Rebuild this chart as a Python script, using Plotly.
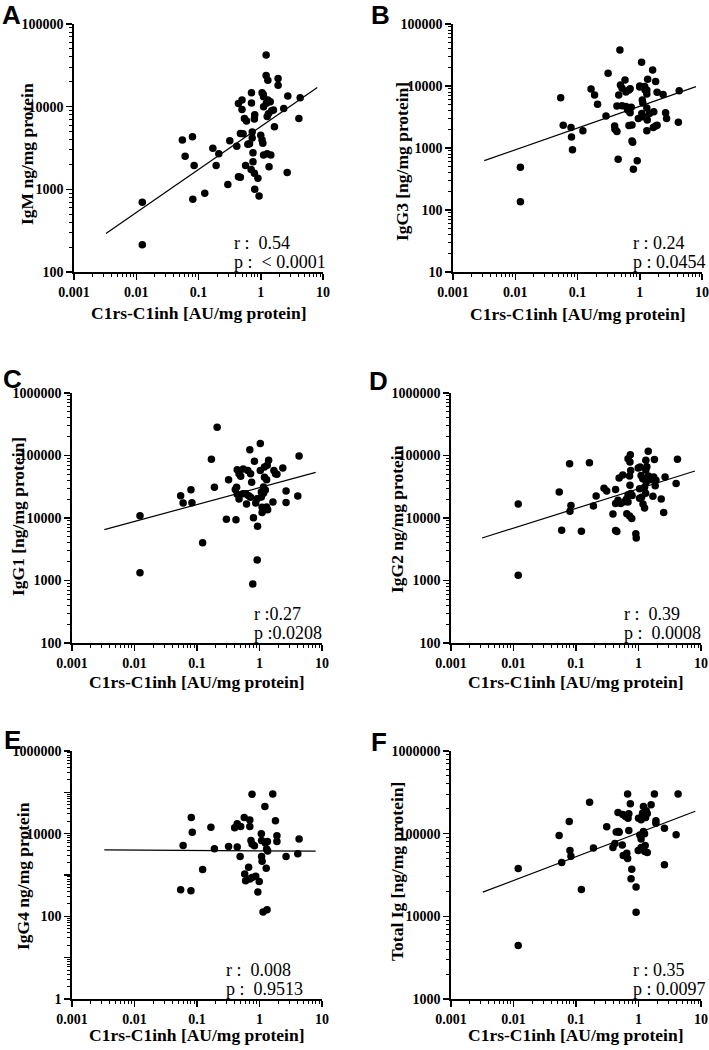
import plotly.graph_objects as go

# ---------------- data ----------------
X_TICKS = [0.001, 0.01, 0.1, 1, 10]
X_TICKTEXT = ["0.001", "0.01", "0.1", "1", "10"]
X_TITLE = "C1rs-C1inh [AU/mg protein]"

A_x = [0.0125, 0.0125, 0.055, 0.061, 0.080, 0.085, 0.081, 0.126, 0.170, 0.192, 0.212, 0.296, 0.318, 0.412, 0.438, 0.438, 0.472, 0.47, 0.50, 0.50, 0.52, 0.547, 0.59, 0.57, 0.62, 0.66, 0.70, 0.71, 0.71, 0.73, 0.73, 0.75, 0.75, 0.79, 0.80, 0.79, 0.80, 0.90, 0.94, 1.0, 1.05, 1.11, 1.11, 1.05, 1.08, 1.11, 1.22, 1.22, 1.30, 1.23, 1.30, 1.27, 1.33, 1.27, 1.36, 1.45, 1.60, 1.66, 1.90, 1.90, 2.34, 2.66, 2.72, 4.1, 4.3, 1.50, 1.42, 1.1]
A_y = [700, 214, 3940, 2520, 4320, 1940, 760, 898, 3150, 1940, 2690, 1143, 3860, 3310, 10900, 1416, 4740, 1400, 12000, 9260, 4700, 7200, 6700, 1940, 3520, 3550, 1735, 14700, 11100, 4940, 4180, 2160, 2780, 7100, 7970, 1570, 1000, 1364, 830, 4500, 14700, 13200, 10000, 3940, 3600, 2600, 42100, 23900, 20800, 11000, 12000, 7600, 8200, 2700, 1870, 2600, 9100, 5710, 21900, 18200, 9500, 1600, 13500, 7200, 12800, 8900, 11500, 14000]
FIT_A_x = [0.00326, 8.1]
FIT_A_y = [292, 17100]

B_x = [0.0121, 0.0121, 0.0537, 0.059, 0.0787, 0.080, 0.083, 0.122, 0.165, 0.188, 0.21, 0.287, 0.31, 0.395, 0.40, 0.43, 0.43, 0.46, 0.45, 0.48, 0.49, 0.52, 0.52, 0.58, 0.60, 0.60, 0.64, 0.67, 0.67, 0.70, 0.70, 0.73, 0.75, 0.77, 0.75, 0.79, 0.91, 0.95, 1.0, 1.0, 1.07, 1.1, 1.12, 1.13, 1.08, 1.2, 1.22, 1.3, 1.3, 1.32, 1.3, 1.34, 1.3, 1.43, 1.61, 1.68, 1.65, 1.8, 1.80, 1.9, 1.9, 2.37, 2.6, 2.7, 4.17, 4.3]
B_y = [488, 136, 6480, 2320, 2140, 1500, 940, 1900, 8950, 7160, 5060, 3280, 16000, 2260, 2000, 1850, 4760, 7160, 656, 38100, 10400, 9200, 4800, 12500, 4650, 8000, 4100, 8600, 2300, 9000, 3700, 4540, 1300, 1240, 2350, 453, 625, 3000, 10000, 9600, 24100, 5960, 5300, 3200, 3600, 9800, 8600, 8600, 4400, 2830, 7400, 12800, 1900, 3600, 18100, 3860, 2140, 11800, 2270, 2330, 7900, 7300, 3720, 3000, 2600, 8400]
FIT_B_x = [0.00318, 8.0]
FIT_B_y = [625, 9770]

C_x = [0.01224, 0.01224, 0.0548, 0.06, 0.08, 0.083, 0.123, 0.170, 0.19, 0.21, 0.295, 0.32, 0.41, 0.43, 0.44, 0.42, 0.44, 0.47, 0.47, 0.50, 0.55, 0.54, 0.60, 0.62, 0.65, 0.67, 0.70, 0.72, 0.72, 0.75, 0.80, 0.83, 0.87, 0.92, 0.93, 0.92, 0.78, 1.03, 1.03, 1.07, 1.07, 1.1, 1.1, 1.16, 1.16, 1.2, 1.2, 1.24, 1.3, 1.33, 1.4, 1.3, 1.35, 1.64, 1.7, 1.8, 1.9, 2.36, 2.66, 2.66, 4.1, 4.3]
C_y = [10900, 1330, 22800, 17400, 28400, 17600, 4030, 86900, 31000, 282000, 9530, 41000, 28500, 31000, 24000, 9400, 59300, 20200, 51000, 46400, 60900, 24400, 24400, 16700, 57400, 22600, 124000, 51000, 21500, 37200, 10100, 80700, 17400, 20400, 7360, 2130, 880, 155000, 57700, 26000, 21700, 12200, 14900, 31400, 24800, 65500, 45000, 28000, 15000, 69600, 83800, 41000, 13500, 18000, 57500, 51000, 50000, 63000, 27000, 17700, 22500, 98000]
FIT_C_x = [0.00329, 7.92]
FIT_C_y = [6510, 53800]

D_x = [0.0119, 0.0119, 0.054, 0.059, 0.079, 0.08, 0.083, 0.122, 0.164, 0.19, 0.21, 0.281, 0.31, 0.39, 0.43, 0.43, 0.43, 0.45, 0.47, 0.49, 0.52, 0.56, 0.6, 0.64, 0.65, 0.68, 0.68, 0.68, 0.72, 0.72, 0.73, 0.73, 0.74, 0.75, 0.75, 0.79, 0.78, 0.906, 0.92, 0.99, 1.04, 1.04, 1.06, 1.1, 1.12, 1.17, 1.18, 1.25, 1.25, 1.3, 1.31, 1.31, 1.33, 1.36, 1.43, 1.44, 1.6, 1.7, 1.75, 1.8, 1.85, 1.9, 2.31, 2.53, 2.66, 4.0, 4.2]
D_y = [16700, 1210, 26100, 6350, 74000, 12800, 15900, 6120, 76800, 15600, 22500, 30000, 27000, 11600, 28600, 17000, 6300, 6100, 19300, 43500, 17100, 48700, 18200, 20000, 11700, 89000, 18000, 23600, 10800, 47000, 33500, 79000, 103000, 57300, 24600, 23000, 9800, 5610, 4790, 63000, 29400, 20700, 65700, 48000, 21500, 42500, 16700, 14500, 31100, 25000, 58600, 83700, 37600, 66000, 117000, 46800, 40900, 22200, 45200, 86000, 32700, 40000, 20200, 12200, 45200, 35500, 87000]
FIT_D_x = [0.00314, 8.0]
FIT_D_y = [4790, 56500]

E_x = [0.0548, 0.06, 0.081, 0.084, 0.08, 0.123, 0.167, 0.19, 0.32, 0.40, 0.44, 0.44, 0.49, 0.50, 0.57, 0.58, 0.60, 0.67, 0.70, 0.70, 0.70, 0.73, 0.76, 0.76, 0.76, 0.83, 0.87, 0.94, 0.99, 1.07, 1.08, 1.08, 1.1, 1.14, 1.22, 1.24, 1.3, 1.28, 1.32, 1.34, 1.35, 1.63, 1.8, 1.9, 1.9, 2.66, 4.1, 4.3]
E_y = [440, 5170, 24500, 10800, 415, 1360, 14300, 4300, 4890, 13900, 17300, 4750, 2800, 14900, 24500, 1050, 724, 1550, 21500, 14900, 805, 6830, 89800, 5640, 870, 5100, 930, 386, 700, 9890, 6830, 2800, 2150, 127, 45200, 5940, 4280, 1450, 144, 6500, 3800, 91500, 20500, 8950, 6500, 2800, 3250, 7480]
FIT_E_x = [0.00329, 7.92]
FIT_E_y = [4060, 3770]

F_x = [0.0119, 0.0119, 0.0537, 0.059, 0.078, 0.08, 0.083, 0.122, 0.165, 0.19, 0.31, 0.39, 0.42, 0.44, 0.48, 0.47, 0.49, 0.55, 0.56, 0.57, 0.62, 0.65, 0.67, 0.67, 0.68, 0.7, 0.7, 0.74, 0.78, 0.76, 0.915, 0.915, 0.99, 1.0, 1.05, 1.1, 1.1, 1.1, 1.16, 1.18, 1.2, 1.2, 1.25, 1.26, 1.28, 1.3, 1.33, 1.38, 1.38, 1.59, 1.8, 1.9, 1.9, 2.6, 2.6, 4.0, 4.3]
F_y = [37900, 4450, 94900, 44700, 140000, 62500, 53200, 21100, 240000, 67000, 121000, 68000, 76000, 105000, 106000, 180000, 104000, 73000, 170000, 54600, 161000, 57800, 50200, 302000, 154000, 174000, 109000, 230000, 37200, 28400, 22700, 11200, 62500, 154000, 96500, 86000, 68000, 147000, 177000, 65000, 213000, 106000, 100000, 60800, 72000, 157000, 189000, 175000, 59000, 223000, 302000, 143000, 134000, 116000, 42000, 97000, 302000]
FIT_F_x = [0.00323, 8.1]
FIT_F_y = [19600, 187000]

YT_A = [100, 1000, 10000, 100000]
YT_A_TEXT = ["100", "1000", "10000", "100000"]
YT_B = [10, 100, 1000, 10000, 100000]
YT_B_TEXT = ["10", "100", "1000", "10000", "100000"]
YT_CD = [100, 1000, 10000, 100000, 1000000]
YT_CD_TEXT = ["100", "1000", "10000", "100000", "1000000"]
YT_E = [1, 10, 100, 1000, 10000, 100000, 1000000]
YT_E_TEXT = ["1", "", "100", "", "10000", "", "1000000"]
YT_F = [1000, 10000, 100000, 1000000]
YT_F_TEXT = ["1000", "10000", "100000", "1000000"]

NB = "\u00a0"
panels = [
    dict(letter="A", x=A_x, y=A_y, fx=FIT_A_x, fy=FIT_A_y, yr=[2, 5], yt=YT_A, ytt=YT_A_TEXT,
         ytitle="IgM ng/mg protein", r="r :" + NB * 2 + "0.54", p="p :" + NB * 2 + "< 0.0001",
         px=(74, 323), py=(24, 272), let=(11, 15), yti=(27, 154), xti=313, rpx=232),
    dict(letter="B", x=B_x, y=B_y, fx=FIT_B_x, fy=FIT_B_y, yr=[1, 5], yt=YT_B, ytt=YT_B_TEXT,
         ytitle="IgG3 [ng/mg protein]", r="r : 0.24", p="p : 0.0454",
         px=(453, 702), py=(24, 272), let=(380, 15), yti=(402, 162), xti=314, rpx=631),
    dict(letter="C", x=C_x, y=C_y, fx=FIT_C_x, fy=FIT_C_y, yr=[2, 6], yt=YT_CD, ytt=YT_CD_TEXT,
         ytitle="IgG1 [ng/mg protein]", r="r :0.27", p="p :0.0208",
         px=(72, 322), py=(393, 643), let=(12, 379), yti=(18, 517), xti=682, rpx=252),
    dict(letter="D", x=D_x, y=D_y, fx=FIT_D_x, fy=FIT_D_y, yr=[2, 6], yt=YT_CD, ytt=YT_CD_TEXT,
         ytitle="IgG2 ng/mg protein", r="r :" + NB * 2 + "0.39", p="p :" + NB * 2 + "0.0008",
         px=(451, 701), py=(393, 643), let=(379, 381), yti=(397, 519), xti=682, rpx=622),
    dict(letter="E", x=E_x, y=E_y, fx=FIT_E_x, fy=FIT_E_y, yr=[0, 6], yt=YT_E, ytt=YT_E_TEXT,
         ytitle="IgG4 ng/mg protein", r="r :" + NB * 2 + "0.008", p="p :" + NB * 2 + "0.9513",
         px=(72, 322), py=(751, 999), let=(12, 740), yti=(23, 876), xti=1035, rpx=224),
    dict(letter="F", x=F_x, y=F_y, fx=FIT_F_x, fy=FIT_F_y, yr=[3, 6], yt=YT_F, ytt=YT_F_TEXT,
         ytitle="Total Ig [ng/mg protein]", r="r : 0.35", p="p : 0.0097",
         px=(451, 701), py=(751, 999), let=(379, 742), yti=(397, 872), xti=1035, rpx=631),
]

W, H = 709, 1050
SERIF = "Liberation Serif, Times New Roman, serif"
SANS = "Liberation Sans, Arial, sans-serif"


def fx(px):
    return px / W


def fy(py):
    return 1 - py / H


fig = go.Figure()
layout = dict(width=W, height=H, margin=dict(l=0, r=0, t=0, b=0, pad=0, autoexpand=False),
              paper_bgcolor="white", plot_bgcolor="white", showlegend=False)
annotations = []

for i, pn in enumerate(panels, start=1):
    xa = "x" if i == 1 else f"x{i}"
    ya = "y" if i == 1 else f"y{i}"
    fig.add_trace(go.Scatter(x=pn["x"], y=pn["y"], mode="markers", xaxis=xa, yaxis=ya,
                             marker=dict(color="black", size=7.5), cliponaxis=False))
    fig.add_trace(go.Scatter(x=pn["fx"], y=pn["fy"], mode="lines", xaxis=xa, yaxis=ya,
                             line=dict(color="black", width=1.2)))
    common = dict(type="log", showgrid=False, zeroline=False, showline=True,
                  linecolor="black", linewidth=1.8, ticks="outside", ticklen=6,
                  tickwidth=1.5, tickcolor="black", automargin=False,
                  tickfont=dict(family=SERIF, size=14, color="black", weight="bold"),
                  minor=dict(ticks="outside", ticklen=3, tickwidth=1, tickcolor="black",
                             dtick="D1", showgrid=False))
    layout["xaxis" if i == 1 else f"xaxis{i}"] = dict(
        common, domain=[fx(pn["px"][0]), fx(pn["px"][1])], range=[-3, 1],
        anchor=ya, tickmode="array", tickvals=X_TICKS, ticktext=X_TICKTEXT)
    layout["yaxis" if i == 1 else f"yaxis{i}"] = dict(
        common, domain=[fy(pn["py"][1]), fy(pn["py"][0])], range=pn["yr"],
        anchor=xa, tickmode="array", tickvals=pn["yt"], ticktext=pn["ytt"])

    annotations.append(dict(text=pn["letter"], xref="paper", yref="paper",
                            x=fx(pn["let"][0]), y=fy(pn["let"][1]), showarrow=False,
                            xanchor="center", yanchor="middle",
                            font=dict(family=SANS, size=26, color="black", weight="bold")))
    annotations.append(dict(text=pn["ytitle"], xref="paper", yref="paper", textangle=-90,
                            x=fx(pn["yti"][0]), y=fy(pn["yti"][1]), showarrow=False,
                            xanchor="center", yanchor="middle",
                            font=dict(family=SERIF, size=17.5, color="black", weight="bold")))
    annotations.append(dict(text=X_TITLE, xref="paper", yref="paper",
                            x=fx((pn["px"][0] + pn["px"][1]) / 2), y=fy(pn["xti"]),
                            showarrow=False, xanchor="center", yanchor="middle",
                            font=dict(family=SERIF, size=17.5, color="black", weight="bold")))
    bottom = pn["py"][1]
    annotations.append(dict(text=pn["r"], xref="paper", yref="paper",
                            x=fx(pn["rpx"]), y=fy(bottom - 29), showarrow=False,
                            xanchor="left", yanchor="middle",
                            font=dict(family=SERIF, size=18, color="black")))
    annotations.append(dict(text=pn["p"], xref="paper", yref="paper",
                            x=fx(pn["rpx"]), y=fy(bottom - 10), showarrow=False,
                            xanchor="left", yanchor="middle",
                            font=dict(family=SERIF, size=18, color="black")))

layout["annotations"] = annotations
fig.update_layout(**layout)
fig.write_html("out.html", config={"displayModeBar": False, "staticPlot": True},
               post_script="document.body.style.margin='0';document.body.style.overflow='hidden';")
